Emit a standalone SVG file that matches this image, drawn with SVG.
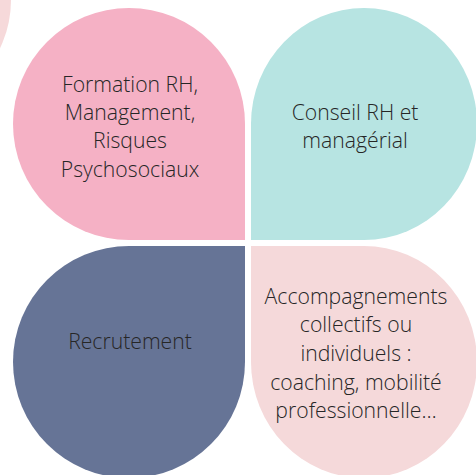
<svg xmlns="http://www.w3.org/2000/svg" width="476" height="475" viewBox="0 0 476 475">
<style>
text{font-family:"Open Sans","Noto Sans","Liberation Sans",sans-serif;font-weight:300;font-size:21.2px;fill:#262626;text-anchor:middle}
</style>
<rect width="476" height="475" fill="#ffffff"/>
<circle cx="-100" cy="0" r="111" fill="#f6d9da"/>
<g id="formation">
<path d="M245,240 H129 A116,116 0 0 1 13,124 A116,116 0 0 1 129,8 A116,116 0 0 1 245,124 Z" fill="#f5b1c5"/>
<text x="130" y="92">Formation RH,</text>
<text x="130" y="120">Management,</text>
<text x="130" y="148">Risques</text>
<text x="130" y="177">Psychosociaux</text>
</g>
<g id="conseil">
<path d="M251,240 V124 A113,116 0 0 1 364,8 A113,116 0 0 1 477,124 A113,116 0 0 1 364,240 Z" fill="#b7e4e2"/>
<text x="355" y="120">Conseil RH et</text>
<text x="355" y="148">managérial</text>
</g>
<g id="recrutement">
<path d="M245,246 V362 A116,116 0 0 1 129,478 A116,116 0 0 1 13,362 A116,116 0 0 1 129,246 Z" fill="#667496"/>
<text x="130" y="349">Recrutement</text>
</g>
<g id="accompagnements">
<path d="M251,246 H364 A113,116 0 0 1 477,362 A113,116 0 0 1 364,478 A113,116 0 0 1 251,362 Z" fill="#f5d9da"/>
<text x="356" y="304">Accompagnements</text>
<text x="356" y="332">collectifs ou</text>
<text x="356" y="361">individuels :</text>
<text x="356" y="390">coaching, mobilité</text>
<text x="356" y="418">professionnelle…</text>
</g>
<g id="connectors"/>
</svg>
